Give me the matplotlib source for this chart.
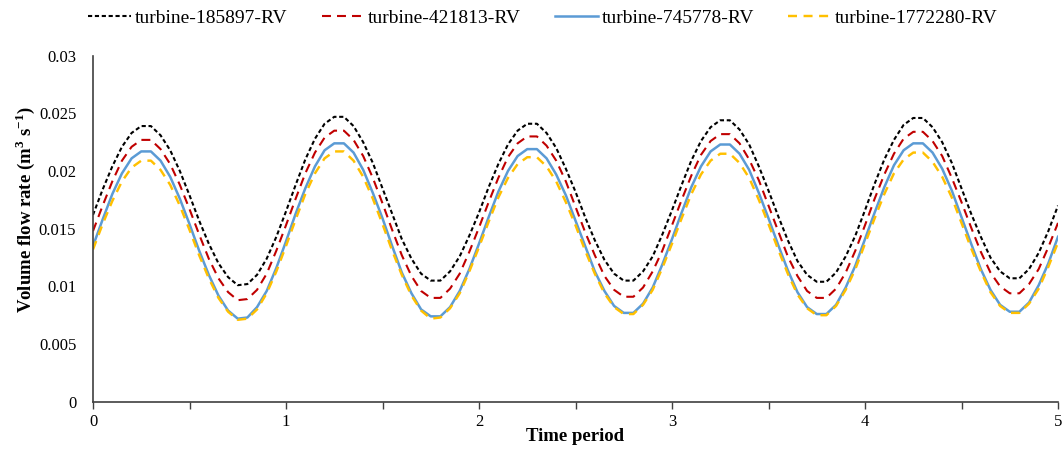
import numpy as np
import matplotlib
matplotlib.use("Agg")
import matplotlib.pyplot as plt
from matplotlib.ticker import MultipleLocator, FuncFormatter

# eixo do tempo (a cada 0.05 do período)
tempo = np.round(np.arange(0, 5.0001, 0.05), 2)

# valores (m3/s)
turb_185897 = [
    0.0162, 0.0184, 0.0204, 0.0221, 0.0233, 0.0239,
    0.0239, 0.0231, 0.0218, 0.0200, 0.0179, 0.0157, 0.0137, 0.0120, 0.0108, 0.0101,
    0.0102, 0.0110, 0.0124, 0.0143, 0.0165, 0.0188, 0.0210, 0.0228, 0.0241, 0.0247,
    0.0247, 0.0239, 0.0225, 0.0207, 0.0185, 0.0163, 0.0141, 0.0124, 0.0111, 0.0105,
    0.0105, 0.0113, 0.0126, 0.0144, 0.0164, 0.0186, 0.0206, 0.0223, 0.0235, 0.0241,
    0.0241, 0.0233, 0.0220, 0.0202, 0.0182, 0.0160, 0.0140, 0.0123, 0.0111, 0.0105,
    0.0105, 0.0113, 0.0126, 0.0145, 0.0166, 0.0188, 0.0209, 0.0226, 0.0238, 0.0244,
    0.0244, 0.0236, 0.0223, 0.0204, 0.0183, 0.0161, 0.0140, 0.0122, 0.0110, 0.0104,
    0.0104, 0.0112, 0.0126, 0.0144, 0.0166, 0.0189, 0.0210, 0.0227, 0.0240, 0.0246,
    0.0246, 0.0238, 0.0225, 0.0207, 0.0185, 0.0163, 0.0143, 0.0125, 0.0113, 0.0107,
    0.0107, 0.0115, 0.0129, 0.0148, 0.0170]
turb_421813 = [
    0.0148, 0.0170, 0.0191, 0.0209, 0.0221, 0.0227,
    0.0227, 0.0219, 0.0206, 0.0188, 0.0167, 0.0145, 0.0124, 0.0107, 0.0095, 0.0088,
    0.0089, 0.0097, 0.0111, 0.0131, 0.0153, 0.0176, 0.0198, 0.0216, 0.0229, 0.0235,
    0.0235, 0.0227, 0.0213, 0.0194, 0.0172, 0.0149, 0.0127, 0.0109, 0.0096, 0.0090,
    0.0090, 0.0098, 0.0111, 0.0130, 0.0151, 0.0173, 0.0194, 0.0212, 0.0224, 0.0230,
    0.0230, 0.0222, 0.0209, 0.0191, 0.0169, 0.0147, 0.0127, 0.0109, 0.0097, 0.0091,
    0.0091, 0.0099, 0.0113, 0.0131, 0.0153, 0.0175, 0.0196, 0.0214, 0.0226, 0.0232,
    0.0232, 0.0224, 0.0210, 0.0192, 0.0170, 0.0148, 0.0126, 0.0109, 0.0096, 0.0090,
    0.0090, 0.0098, 0.0112, 0.0131, 0.0153, 0.0176, 0.0197, 0.0215, 0.0228, 0.0234,
    0.0234, 0.0226, 0.0213, 0.0194, 0.0173, 0.0151, 0.0130, 0.0112, 0.0100, 0.0094,
    0.0094, 0.0102, 0.0115, 0.0134, 0.0155]
turb_745778 = [
    0.0135, 0.0158, 0.0180, 0.0198, 0.0211, 0.0217,
    0.0217, 0.0209, 0.0195, 0.0176, 0.0154, 0.0131, 0.0110, 0.0092, 0.0079, 0.0072,
    0.0073, 0.0082, 0.0096, 0.0116, 0.0139, 0.0163, 0.0185, 0.0204, 0.0218, 0.0224,
    0.0224, 0.0216, 0.0201, 0.0181, 0.0159, 0.0135, 0.0112, 0.0094, 0.0080, 0.0074,
    0.0074, 0.0082, 0.0096, 0.0115, 0.0137, 0.0160, 0.0182, 0.0200, 0.0213, 0.0219,
    0.0219, 0.0211, 0.0197, 0.0179, 0.0157, 0.0135, 0.0113, 0.0096, 0.0083, 0.0077,
    0.0077, 0.0085, 0.0099, 0.0119, 0.0141, 0.0164, 0.0186, 0.0204, 0.0217, 0.0223,
    0.0223, 0.0215, 0.0201, 0.0181, 0.0159, 0.0136, 0.0114, 0.0095, 0.0082, 0.0076,
    0.0076, 0.0084, 0.0099, 0.0118, 0.0141, 0.0164, 0.0186, 0.0205, 0.0218, 0.0224,
    0.0224, 0.0216, 0.0202, 0.0183, 0.0160, 0.0137, 0.0115, 0.0097, 0.0084, 0.0078,
    0.0078, 0.0086, 0.0101, 0.0120, 0.0143]
turb_1772280 = [
    0.0132, 0.0154, 0.0174, 0.0191, 0.0203, 0.0209,
    0.0209, 0.0201, 0.0188, 0.0170, 0.0149, 0.0127, 0.0107, 0.0090, 0.0078, 0.0071,
    0.0072, 0.0080, 0.0094, 0.0113, 0.0135, 0.0158, 0.0180, 0.0198, 0.0211, 0.0217,
    0.0217, 0.0209, 0.0195, 0.0176, 0.0154, 0.0131, 0.0110, 0.0092, 0.0079, 0.0072,
    0.0073, 0.0081, 0.0094, 0.0113, 0.0134, 0.0156, 0.0177, 0.0194, 0.0206, 0.0212,
    0.0212, 0.0204, 0.0191, 0.0173, 0.0153, 0.0131, 0.0111, 0.0094, 0.0082, 0.0076,
    0.0076, 0.0084, 0.0097, 0.0116, 0.0137, 0.0159, 0.0180, 0.0197, 0.0209, 0.0215,
    0.0215, 0.0207, 0.0194, 0.0175, 0.0154, 0.0132, 0.0111, 0.0093, 0.0081, 0.0075,
    0.0075, 0.0083, 0.0097, 0.0115, 0.0137, 0.0159, 0.0180, 0.0198, 0.0210, 0.0216,
    0.0216, 0.0208, 0.0195, 0.0177, 0.0155, 0.0133, 0.0113, 0.0095, 0.0083, 0.0077,
    0.0077, 0.0085, 0.0098, 0.0117, 0.0138]

nomes = ['turbine-185897-RV', 'turbine-421813-RV', 'turbine-745778-RV', 'turbine-1772280-RV']

plt.rcParams['font.family'] = ['Liberation Serif', 'DejaVu Serif']
plt.rcParams['mathtext.fontset'] = 'custom'
plt.rcParams['mathtext.rm'] = 'Liberation Serif:bold'
plt.rcParams['mathtext.bf'] = 'Liberation Serif:bold'

fig = plt.figure(figsize=(10.64, 4.49), dpi=100)
ax = fig.add_axes([93/1064, 1 - 401.7/449, 965/1064, 346/449])

ax.plot(tempo, turb_185897, color='black', lw=1.5, ls=(0, (2.0, 1.3)), label=nomes[0])
ax.plot(tempo, turb_421813, color='#C00000', lw=1.5, ls=(0, (4.3, 2.9)), label=nomes[1])
ax.plot(tempo, turb_745778, color='#5B9BD5', lw=1.8, ls='-', label=nomes[2])
ax.plot(tempo, turb_1772280, color='#FFC000', lw=1.75, ls=(0, (3.7, 2.7)), label=nomes[3])

ax.set_xlim(0, 5)
ax.set_ylim(0, 0.03)
ax.xaxis.set_major_locator(MultipleLocator(1))
ax.xaxis.set_minor_locator(MultipleLocator(0.5))
ax.yaxis.set_major_locator(MultipleLocator(0.005))
ax.yaxis.set_major_formatter(FuncFormatter(lambda v, p: '%g' % round(v, 4)))

for s in ['top', 'right']:
    ax.spines[s].set_visible(False)
for s in ['left', 'bottom']:
    ax.spines[s].set_color('#404040')
    ax.spines[s].set_linewidth(1.2)

ax.tick_params(axis='x', which='both', direction='out', length=5, width=1, color='#404040',
               labelsize=12, pad=4)
ax.tick_params(axis='y', which='both', length=0, labelsize=12, pad=12)

ax.set_xlabel('Time period', fontsize=13.5, fontweight='bold')
ax.set_ylabel(r'Volume flow rate (m$^{3}$ s$^{-1}$)', fontsize=13.5, fontweight='bold')
ax.xaxis.set_label_coords(0.5, -0.075)
ax.yaxis.set_label_coords(-0.058, 0.554)

fig.legend(loc='center', bbox_to_anchor=(543/1064, 1 - 18/449), ncol=4, frameon=False,
           fontsize=14, handlelength=2.2, handletextpad=0.2, columnspacing=1.75)

fig.savefig('out.png', dpi=100)
